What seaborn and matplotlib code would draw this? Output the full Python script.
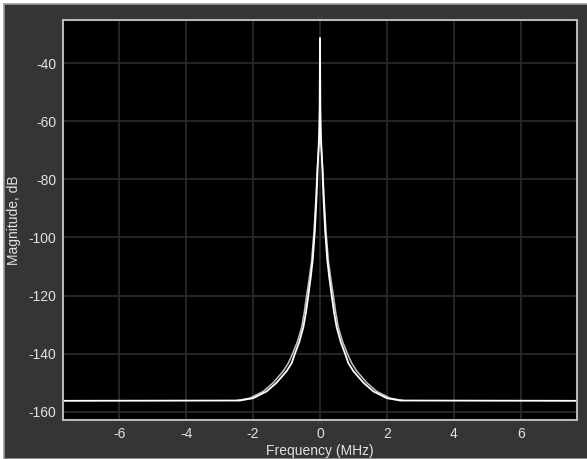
import seaborn as sns
import numpy as np
import pandas as pd
import matplotlib.pyplot as plt
from matplotlib.patches import Rectangle

# spectrum values (MHz, dB)
freq_a = [-7.68, -2.4, -2.0, -1.6, -1.3, -1.0, -0.85, -0.75, -0.62, -0.5, -0.42, -0.35, -0.28, -0.22, -0.15, -0.1,
          -0.07, -0.03, -0.01,
          0.0, 0.01, 0.03, 0.07, 0.1, 0.15, 0.22, 0.28, 0.35, 0.42, 0.5, 0.62, 0.75, 0.85, 1.0, 1.3, 1.6, 2.0, 2.4,
          7.68]
mag_a = [-156.2, -156.1, -155.3, -153, -150, -146, -143.3, -140, -136, -131, -125.8, -120, -114, -108, -97, -85,
         -76, -66, -55,
         -31.4, -55, -66, -76, -85, -97, -108, -114, -120, -125.8, -131, -136, -140, -143.3, -146, -150, -153, -155.3,
         -156.1, -156.2]

freq_b = [-2.5, -2.1, -1.7, -1.4, -1.1, -0.95, -0.82, -0.68, -0.55, -0.47, -0.4, -0.32, -0.25, -0.18, -0.12, -0.08,
          -0.03,
          0.0, 0.03, 0.08, 0.12, 0.18, 0.25, 0.32, 0.4, 0.47, 0.55, 0.68, 0.82, 0.95, 1.1, 1.4, 1.7, 2.1, 2.5]
mag_b = [-156.1, -155.3, -153, -150, -146, -143.3, -140, -136, -131, -125.8, -120, -114, -108, -98, -86, -76,
         -68,
         -62, -68, -76, -86, -98, -108, -114, -120, -125.8, -131, -136, -140, -143.3, -146, -150, -153, -155.3, -156.1]

xticks = [-6, -4, -2, 0, 2, 4, 6]
yticks = [-160, -140, -120, -100, -80, -60, -40]

df_a = pd.DataFrame({'freq': freq_a, 'mag': mag_a})
df_b = pd.DataFrame({'freq': freq_b, 'mag': mag_b})

sns.set_style('dark')
plt.rcParams['font.family'] = ['Liberation Sans', 'DejaVu Sans']
plt.rcParams['axes.unicode_minus'] = False

fig = plt.figure(figsize=(5.87, 4.59), dpi=100, facecolor='white')
bg = Rectangle((4/587, 0), 1, 1 - 4/459, transform=fig.transFigure,
               facecolor='#353535', edgecolor='#9a9a9a', lw=1.2, zorder=-5)
fig.add_artist(bg)
ax = fig.add_axes([63/587, 39/459, 514/587, 400/459])
ax.set_facecolor('black')

sns.lineplot(data=df_b, x='freq', y='mag', ax=ax, color='#c4c4c4', lw=1.1, sort=False)
sns.lineplot(data=df_a, x='freq', y='mag', ax=ax, color='white', lw=1.3, sort=False)

ax.set_xlim(-7.68, 7.68)
ax.set_ylim(-162.8, -25.2)
ax.set_xticks(xticks)
ax.set_yticks(yticks)
ax.grid(True, color='#2c2c2c', lw=1.2)
ax.tick_params(length=0, pad=5, labelsize=10, colors='#dde3ea')
for s in ax.spines.values():
    s.set_color('#b8b8b8')
    s.set_linewidth(1.5)
ax.set_xlabel('Frequency (MHz)', color='#dde3ea', fontsize=10)
ax.set_ylabel('Magnitude, dB', color='#dde3ea', fontsize=10)
ax.yaxis.set_label_coords(-0.082, 0.5)
ax.xaxis.set_label_coords(0.5, -0.06)

fig.savefig('out.png', dpi=100, facecolor=fig.get_facecolor())
